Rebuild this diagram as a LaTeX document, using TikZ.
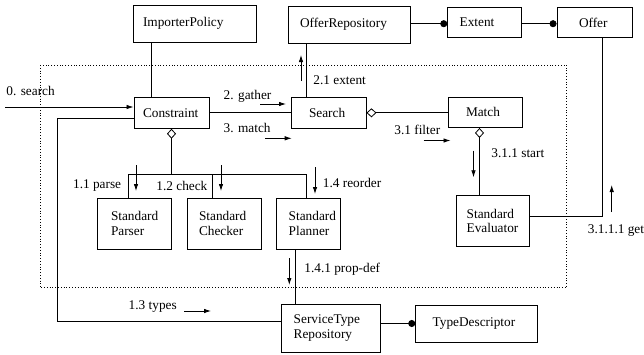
\documentclass[tikz,border=0pt]{standalone}
\usepackage{fontspec}
\setmainfont{Liberation Serif}
\usetikzlibrary{arrows.meta}
\newcommand\dfont{\fontsize{13.3}{14.5}\selectfont}
\begin{document}
\begin{tikzpicture}[x=1pt,y=-1pt,line width=0.8pt,
  box/.style={draw,line width=0.9pt,align=left,inner ysep=0pt,font=\dfont},
  lbl/.style={anchor=west,inner sep=0pt,font=\dfont},
  msg/.style={-{Latex[length=7pt,width=4.5pt]}},
  dia/.style={{Diamond[open,length=10pt,width=9pt]}-},
  dot/.style={-{Circle[length=7pt]}}]
\useasboundingbox (0,0) rectangle (644,354);
% frame
\draw[dotted,line width=0.8pt] (40,65) rectangle (566.7,287.7);
% boxes
\node[box,minimum height=37pt,text width=103pt,inner xsep=10pt] (imp) at (194.5,23.5) {ImporterPolicy};
\node[box,minimum height=37pt,text width=98.7pt,inner xsep=12pt] (orep) at (349.35,24.5) {OfferRepository};
\node[box,minimum height=30.4pt,text width=50pt,inner xsep=12pt] (ext) at (484.7,22.5) {Extent};
\node[box,minimum height=30.4pt,text width=31pt,inner xsep=22pt] (offer) at (594.5,22.5) {Offer};
\node[box,minimum height=31pt,text width=57pt,inner xsep=9pt] (con) at (171.5,112.8) {Constraint};
\node[box,minimum height=31pt,text width=39.5pt,inner xsep=17.5pt] (search) at (328.75,112.8) {Search};
\node[box,minimum height=30.2pt,text width=38.7pt,inner xsep=18pt] (match) at (485.35,112.4) {Match};
\node[box,minimum height=51pt,text width=46pt,inner xsep=14pt] (parser) at (134,223.5) {Standard\\Parser};
\node[box,minimum height=51pt,text width=50pt,inner xsep=12pt] (checker) at (224,223.5) {Standard\\Checker};
\node[box,minimum height=51pt,text width=39.3pt,inner xsep=12pt] (planner) at (308.35,223.5) {Standard\\Planner};
\node[box,minimum height=50.5pt,text width=51.6pt,inner xsep=10.7pt] (eval) at (492.5,220.75) {Standard\\Evaluator};
\node[box,minimum height=48.3pt,text width=75pt,inner xsep=12pt] (str) at (331.2,328.15) {ServiceType\\Repository};
\node[box,minimum height=37pt,text width=87.3pt,inner xsep=17pt] (td) at (476.35,323.5) {TypeDescriptor};
% helper coordinates
\coordinate (xi) at (151.7,0);
\coordinate (xs) at (306.7,0);
\coordinate (in0) at (5,107);
\coordinate (b1) at (57,118);
\coordinate (b2) at (57,321.7);
\coordinate (jp) at (128.3,174);
\coordinate (jc) at (212.7,174);
\coordinate (jl) at (306.7,174);
\coordinate (xp) at (295,0);
\coordinate (xm) at (479.5,0);
\coordinate (ev) at (602.7,216.7);
\coordinate (yo) at (0,23.7);
% connectors
\draw (imp.south -| xi) -- (con.north -| xi);
\draw[msg] (in0) -- (con.west |- in0);
\draw (con.east |- search.west) -- (search.west);
\draw[dia] (search.east) -- (search.east -| match.west);
\draw (search.north -| xs) -- (orep.south -| xs);
\draw[dot] (orep.east |- yo) -- (ext.west |- yo);
\draw[dot] (ext.east |- yo) -- (offer.west |- yo);
\draw[dia] (con.south) -- (con.south |- jp);
\draw (parser.north -| jp) -- (jp) -- (jl) -- (planner.north -| jl);
\draw (jc) -- (checker.north -| jc);
\draw (planner.south -| xp) -- (str.north -| xp);
\draw (con.west |- b1) -- (b1) -- (b2) -- (str.west |- b2);
\draw[dot] (str.east |- td.west) -- (td.west);
\draw[dia] (match.south -| xm) -- (eval.north -| xm);
\draw (eval.east |- ev) -- (ev) -- (offer.south -| ev);
% message arrows
\draw[msg] (260,104) -- (286,104);
\draw[msg] (265,138.3) -- (291.7,138.3);
\draw[msg] (301,81) -- (301,55);
\draw[msg] (423.5,140.5) -- (450.5,140.5);
\draw[msg] (473.5,150.7) -- (473.5,177.3);
\draw[msg] (611.7,212) -- (611.7,185);
\draw[msg] (136,165) -- (136,191);
\draw[msg] (221,165) -- (221,191);
\draw[msg] (315,167) -- (315,194);
\draw[msg] (289.3,258) -- (289.3,285);
\draw[msg] (184,311) -- (211,311);
% labels
\node[lbl] (l0) at (6,90.7) {0. search};
\node[lbl] (l2) at (223.3,96) {2. gather};
\node[lbl] (l3) at (223.3,128.3) {3. match};
\node[lbl] (l21) at (313,80) {2.1 extent};
\node[lbl] (l31) at (394,130) {3.1 filter};
\node[lbl] (l311) at (491,153.3) {3.1.1 start};
\node[lbl] (l3111) at (587.5,231) {3.1.1.1 get};
\node[lbl] (l11) at (72.7,186) {1.1 parse};
\node[lbl] (l12) at (156,186) {1.2 check};
\node[lbl] (l14) at (322.5,183) {1.4 reorder};
\node[lbl] (l141) at (304,269.3) {1.4.1 prop-def};
\node[lbl] (l13) at (128.3,306.7) {1.3 types};
\end{tikzpicture}
\end{document}
